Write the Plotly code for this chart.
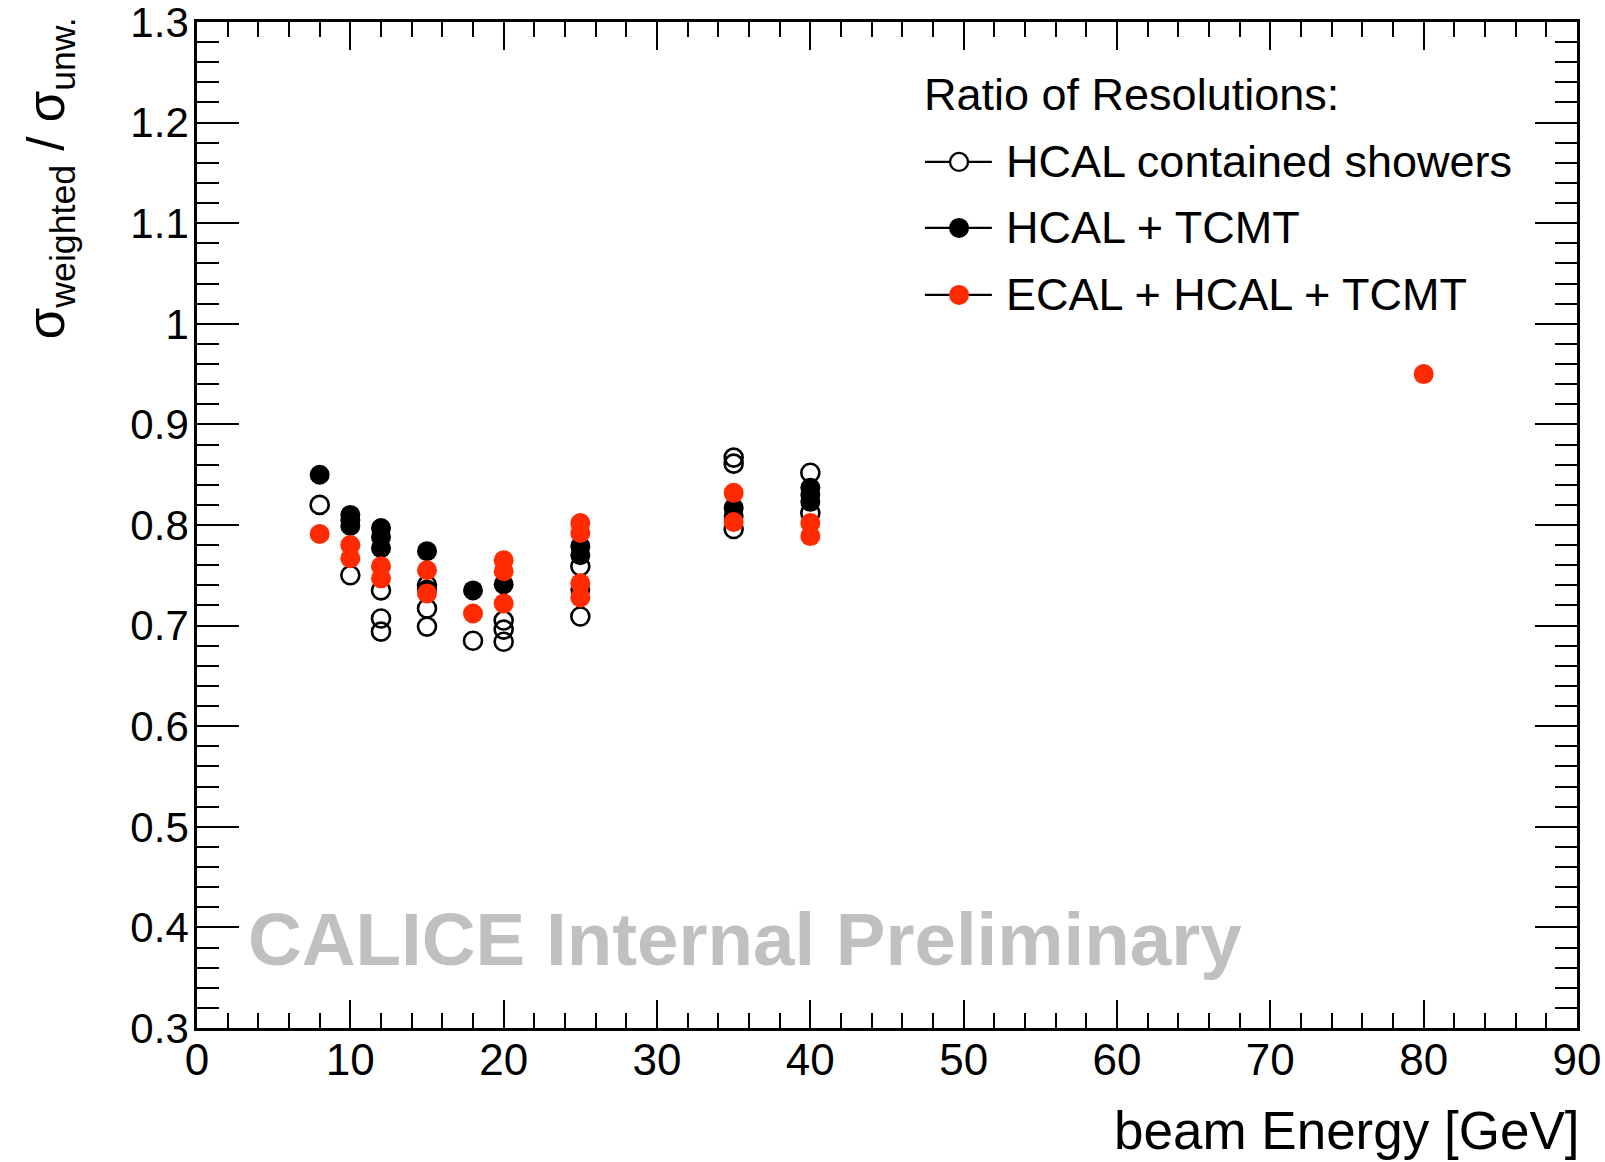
import plotly.graph_objects as go

# Beam energies [GeV] and ratio sigma_weighted / sigma_unweighted per run
hcal_contained_E = [8, 10, 12, 12, 12, 15, 15, 15, 18, 20, 20, 20, 25, 25, 35, 35, 35, 40, 40]
hcal_contained_R = [0.820, 0.750, 0.735, 0.707, 0.694, 0.740, 0.717, 0.699, 0.685,
                    0.705, 0.696, 0.684, 0.759, 0.709, 0.867, 0.861, 0.796, 0.852, 0.812]

hcal_tcmt_E = [8, 10, 10, 10, 12, 12, 12, 15, 15, 18, 20, 25, 25, 25, 35, 35, 40, 40, 40]
hcal_tcmt_R = [0.850, 0.810, 0.805, 0.799, 0.797, 0.788, 0.777, 0.774, 0.736, 0.735,
               0.741, 0.779, 0.770, 0.736, 0.817, 0.809, 0.837, 0.830, 0.823]

ecal_hcal_tcmt_E = [8, 10, 10, 12, 12, 15, 15, 18, 20, 20, 20, 25, 25, 25, 25, 35, 35, 40, 40, 80]
ecal_hcal_tcmt_R = [0.791, 0.780, 0.767, 0.759, 0.747, 0.755, 0.732, 0.712, 0.765, 0.754,
                    0.722, 0.802, 0.792, 0.742, 0.728, 0.832, 0.803, 0.802, 0.789, 0.950]

legend_header = "Ratio of Resolutions:"
series_names = ["HCAL contained showers", "HCAL + TCMT", "ECAL + HCAL + TCMT"]

x_tickvals = [0, 10, 20, 30, 40, 50, 60, 70, 80, 90]
x_ticktext = ["0", "10", "20", "30", "40", "50", "60", "70", "80", "90"]
y_tickvals = [0.3, 0.4, 0.5, 0.6, 0.7, 0.8, 0.9, 1.0, 1.1, 1.2, 1.3]
y_ticktext = ["0.3", "0.4", "0.5", "0.6", "0.7", "0.8", "0.9", "1", "1.1", "1.2", "1.3"]

FONT = "Liberation Sans, Arial, sans-serif"
RED = "#ff2a00"

fig = go.Figure()

fig.add_trace(go.Scatter(
    x=hcal_contained_E, y=hcal_contained_R, mode="markers", showlegend=False,
    marker=dict(symbol="circle-open", size=18, color="black", line=dict(width=2.6, color="black")),
))
fig.add_trace(go.Scatter(
    x=hcal_tcmt_E, y=hcal_tcmt_R, mode="markers", showlegend=False,
    marker=dict(symbol="circle", size=20, color="black", line=dict(width=0)),
))
fig.add_trace(go.Scatter(
    x=ecal_hcal_tcmt_E, y=ecal_hcal_tcmt_R, mode="markers", showlegend=False,
    marker=dict(symbol="circle", size=20, color=RED, line=dict(width=0)),
))

axis_common = dict(
    showgrid=False, zeroline=False, showline=True, linecolor="black", linewidth=2.7,
    mirror="ticks", ticks="inside", tickcolor="black", tickwidth=2.3,
    ticklabeloverflow="allow", automargin=False,
)

fig.update_xaxes(
    range=[0, 90], tickvals=x_tickvals, ticktext=x_ticktext, ticklen=28,
    minor=dict(dtick=2, ticks="inside", ticklen=15, tickwidth=2.3, tickcolor="black"),
    ticklabelstandoff=-9,
    tickfont=dict(family=FONT, size=44, color="black"),
    **axis_common,
)
fig.update_yaxes(
    range=[0.3, 1.3000001], tickvals=y_tickvals, ticktext=y_ticktext, ticklen=42,
    minor=dict(dtick=0.02, ticks="inside", ticklen=22, tickwidth=2.3, tickcolor="black"),
    ticklabelstandoff=-3,
    tickfont=dict(family=FONT, size=42, color="black"),
    **axis_common,
)

annotations = [
    # axis titles
    dict(text="beam Energy [GeV]", xref="paper", yref="paper", x=1.003, y=-0.102,
         xanchor="right", yanchor="middle", showarrow=False,
         font=dict(family=FONT, size=53, color="black")),
    dict(text="σ<sub>weighted</sub> / σ<sub>unw.</sub>", xref="paper", yref="paper",
         x=-0.1056, y=0.845, xanchor="center", yanchor="middle", textangle=-90,
         showarrow=False, font=dict(family=FONT, size=51, color="black")),
    # watermark
    dict(text="<b>CALICE Internal Preliminary</b>", xref="paper", yref="paper",
         x=0.0357, y=0.0878, xanchor="left", yanchor="middle", showarrow=False,
         font=dict(family=FONT, size=74.5, color="#c0c0c0")),
    # legend header
    dict(text=legend_header, xref="paper", yref="paper", x=0.525, y=0.9277,
         xanchor="left", yanchor="middle", showarrow=False,
         font=dict(family=FONT, size=45, color="black")),
]

shapes = []
legend_rows_y = [0.8609, 0.7953, 0.7287]
legend_styles = [("open", "black"), ("filled", "black"), ("filled", RED)]
for name, ly, (kind, col) in zip(series_names, legend_rows_y, legend_styles):
    annotations.append(dict(text=name, xref="paper", yref="paper", x=0.5845, y=ly,
                            xanchor="left", yanchor="middle", showarrow=False,
                            font=dict(family=FONT, size=45, color="black")))
    shapes.append(dict(type="line", xref="paper", yref="paper", x0=0.5275, x1=0.576,
                       y0=ly, y1=ly, line=dict(color="black", width=2.3)))
    if kind == "open":
        shapes.append(dict(type="circle", xref="paper", yref="paper",
                           xsizemode="pixel", ysizemode="pixel",
                           xanchor=0.5522, yanchor=ly, x0=-9, x1=9, y0=-9, y1=9,
                           fillcolor="white", line=dict(color="black", width=2.3)))
    else:
        shapes.append(dict(type="circle", xref="paper", yref="paper",
                           xsizemode="pixel", ysizemode="pixel",
                           xanchor=0.5522, yanchor=ly, x0=-10, x1=10, y0=-10, y1=10,
                           fillcolor=col, line=dict(color=col, width=0)))

fig.update_layout(
    width=1605, height=1162,
    margin=dict(l=197, r=28, t=22, b=134),
    paper_bgcolor="white", plot_bgcolor="white",
    showlegend=False,
    annotations=annotations, shapes=shapes,
    font=dict(family=FONT, color="black"),
)

fig.write_html("out.html")
